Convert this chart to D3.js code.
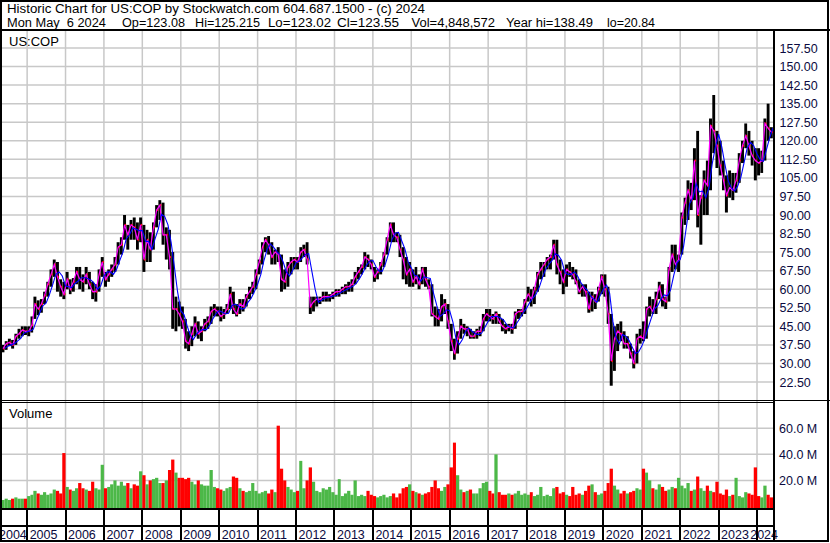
<!DOCTYPE html>
<html>
<head>
<meta charset="utf-8">
<script src="https://cdn.jsdelivr.net/npm/d3@7"></script>
<style>
  body { margin: 0; background: #fff; }
  text { font-family: "Liberation Sans", Arial, sans-serif; }
</style>
</head>
<body>
<script>
// monthly bars, May 2004 .. May 2024
const firstMonth = new Date(2004, 4, 1);

const closes = [
    36, 38, 38.5, 37.5, 41, 42, 43.5, 43,                        //2004
    43, 45.5, 54, 52, 54, 57.5, 62, 66, 70, 65, 61, 58,           //2005
    64, 60, 63, 67, 64, 63, 66, 62, 59, 59, 66, 71,               //2006
    64, 66, 68, 70, 77, 78, 86, 82, 86, 85, 80, 86,               //2007
    72, 80, 76, 85, 92, 94, 82, 82, 73, 52, 52, 50,               //2008
    47, 39, 38, 42, 46, 42, 43, 46, 47, 51, 52, 51,               //2009
    49, 50, 52, 58, 52, 50, 54, 53, 57, 59, 61, 66,               //2010
    71, 77, 80, 78, 73, 75, 74, 64, 63, 69, 71, 72,               //2011
    71, 75, 76, 72, 53, 55, 56, 56, 57, 57, 57, 58,               //2012
    59, 59, 60, 61, 61, 62, 65, 67, 69, 73, 72, 70,               //2013
    65, 67, 70, 74, 80, 86, 82, 81, 76, 72, 66, 68,               //2014
    63, 65, 62, 68, 64, 61, 50, 49, 48, 53, 54, 47,               //2015
    39, 34, 40, 45, 44, 44, 41, 41, 43, 43, 48, 50,               //2016
    49, 48, 50, 47, 45, 44, 45, 44, 50, 51, 51, 55,               //2017
    58, 56, 60, 66, 68, 70, 72, 73, 78, 70, 67, 63,               //2018
    68, 67, 66, 63, 59, 61, 59, 52, 57, 55, 60, 65,               //2019
    60, 50, 31, 40, 43, 42, 38, 38, 34, 30, 40, 41,               //2020
    40, 52, 53, 51, 56, 61, 56, 55, 68, 74, 70, 72,               //2021
    89, 95, 100, 96, 112, 90, 97, 104, 102, 126, 124, 118,        //2022
    110, 104, 98, 101, 100, 104, 112, 118, 122, 118, 114, 112,    //2023
    111, 112, 127, 125, 123.5                                     //2024
];

const highs = [
    37.5, 39, 40, 39.5, 42, 44, 45, 45,
    45, 49, 57, 55.5, 56, 59, 63, 68, 72, 71, 64, 63,
    67, 64, 64.5, 69, 69, 66, 69, 67, 63, 62, 68, 73,
    67, 68, 70, 73, 79, 81, 90, 86, 88, 89, 87, 89,
    86, 84, 83, 87, 94, 96, 95, 85, 84, 75, 57, 55,
    53, 48, 43, 45, 49, 47, 45, 48, 49, 53, 54, 53,
    53, 52, 54, 61, 59, 54, 56, 56, 58, 61, 63, 68,
    72, 79, 81, 81.5, 79, 76, 77, 74, 68, 71, 73, 73,
    73, 77, 78, 79, 57, 57, 57, 57, 59, 59, 58, 59,
    60, 60, 61, 62, 63, 64, 67, 69, 70, 75, 74, 72,
    69, 68, 71, 75, 81, 87, 87, 83, 82, 77, 73, 71,
    68, 69, 66, 69, 69, 64, 62, 53, 52, 58, 56, 54,
    46, 40, 43, 48, 46, 45, 44, 43, 44, 45, 50, 52,
    52, 50, 51, 50, 48, 46, 46, 46, 51, 52, 52, 56,
    61, 60, 61, 67, 71, 71, 73, 74, 80, 80, 72, 68,
    70, 71, 69, 68, 64, 62, 62, 59, 59, 58, 61, 66,
    66, 61, 50, 45, 46, 47, 43, 41, 38, 35, 42, 44,
    47, 53, 57, 56, 59, 63, 62, 57, 69, 78, 78, 74,
    91, 97, 104, 103, 117, 124, 98, 108, 112, 129, 138.5, 124,
    120, 112, 106, 108, 107, 107, 115, 120, 127, 124, 120, 117,
    117, 116, 129, 135, 125.5
];

const lows = [
    34.5, 35.5, 37, 36, 37.5, 40, 41, 41.5,
    41, 42.5, 48, 49.5, 50.5, 54, 57, 61, 65, 59, 57, 56,
    60, 58, 59, 62, 60, 59, 62, 60, 56, 55, 59, 65,
    61, 63, 65, 67, 70, 74, 80, 76, 80, 80, 76, 79,
    67, 71, 71, 76, 85, 88, 78, 72, 68, 44, 43, 45,
    44, 36, 35, 37, 41, 40, 39, 43, 44, 46, 49, 49,
    47, 48, 50, 52, 50, 49, 50, 51, 53, 56, 58, 60,
    66, 70, 75, 74, 70, 70, 71, 59, 60, 61, 66, 68,
    68, 71, 73, 70, 50, 51, 53, 54, 55, 55, 55, 56,
    57, 57, 58, 58, 59, 59, 62, 64, 66, 68, 69, 68,
    63, 64, 66, 69, 74, 79, 79, 79, 73, 64, 62, 61,
    61, 62, 60, 62, 61, 60, 49, 45, 45, 47, 50, 44,
    35, 31.5, 34, 40, 42, 41, 40, 40, 40, 41, 43, 47,
    47, 46, 46, 46, 43, 42, 43, 42, 44, 48, 49, 50,
    55, 53, 54, 59, 64, 65, 68, 68, 72, 66, 62, 58,
    61, 65, 64, 62, 58, 57, 57, 50.5, 51, 52, 55, 58,
    57, 46, 21, 27, 35, 39, 36, 36, 32, 28, 30, 38,
    39, 40, 49, 50, 50, 56, 53, 52, 55, 67, 68, 67,
    74, 86, 88, 92, 96, 85, 78, 90, 90, 100, 115, 109,
    106, 100, 91, 97, 96, 99, 103, 111, 117, 114, 110, 104,
    106, 107, 112, 120, 121
];

// volume in millions
const volumes = [
    5, 6, 5, 6, 7, 6, 6, 6,
    8, 9, 12, 10, 9, 11, 9, 10, 13, 12, 10, 41,
    15, 13, 12, 14, 18, 14, 13, 12, 19, 14, 13, 32,
    14, 15, 17, 20, 16, 19, 16, 18, 14, 17, 16, 27,
    24, 17, 20, 21, 22, 18, 18, 20, 28, 36, 26, 22,
    22, 21, 22, 19, 17, 20, 17, 16, 16, 28, 15, 14,
    13, 12, 14, 15, 23, 22, 14, 12, 11, 12, 18, 12,
    10, 11, 12, 10, 13, 11, 62, 29, 20, 15, 13, 11,
    12, 35, 14, 20, 30, 19, 12, 11, 14, 13, 15, 11,
    9, 21, 8, 10, 12, 9, 20, 8, 9, 8, 12, 9,
    8, 7, 8, 9, 7, 8, 10, 7, 10, 14, 15, 17,
    12, 11, 10, 9, 10, 11, 15, 20, 14, 12, 15, 17,
    30, 49, 24, 13, 11, 12, 13, 10, 10, 14, 18, 19,
    12, 10, 40, 11, 9, 9, 10, 9, 10, 12, 9, 10,
    9, 11, 8, 9, 15, 8, 9, 8, 14, 15, 10, 11,
    9, 8, 15, 9, 10, 9, 12, 16, 17, 11, 9, 10,
    12, 18, 29, 16, 13, 10, 12, 10, 11, 12, 14, 13,
    29, 26, 20, 14, 13, 17, 15, 12, 13, 15, 14, 22,
    16, 14, 18, 12, 13, 23, 14, 12, 16, 12, 11, 19,
    10, 9, 13, 8, 9, 22, 8, 7, 11, 10, 9, 30,
    8, 7, 16, 9, 7
];

const priceTicks = [22.5, 30, 37.5, 45, 52.5, 60, 67.5, 75, 82.5, 90, 97.5,
                    105, 112.5, 120, 127.5, 135, 142.5, 150, 157.5];
const volumeTicks = [20, 40, 60];
const yearLabels = [2004, 2005, 2006, 2007, 2008, 2009, 2010, 2011, 2012, 2013, 2014,
                    2015, 2016, 2017, 2018, 2019, 2020, 2021, 2022, 2023, 2024];

// header texts: [text, left, right]
const headerTitle = ["Historic Chart for US:COP by Stockwatch.com 604.687.1500 - (c) 2024", 7, 425];
const headerInfo = [
    ["Mon May  6 2024", 7, 106], ["Op=123.08", 122, 185], ["Hi=125.215", 195, 260],
    ["Lo=123.02", 268, 331], ["Cl=123.55", 337, 399], ["Vol=4,848,572", 411.5, 495],
    ["Year hi=138.49", 506, 593], ["lo=20.84", 607, 655]
];

function go() {
    const width = 830, height = 543;
    const plotRight = 773;
    const labelColor = "#0a0a40";

    const svg = d3.select("body").append("svg")
        .attr("width", width)
        .attr("height", height);

    const x = d3.scaleTime()
        .domain([new Date(2004, 3, 18), new Date(2024, 5, 1)])
        .range([0, plotRight]);
    const y = d3.scaleLinear().domain([22.5, 157.5]).range([382, 48]);
    const yv = d3.scaleLinear().domain([0, 60]).range([506.5, 428.3]);

    const bars = closes.map(function(c, i) {
        const start = d3.timeMonth.offset(firstMonth, i);
        const from = Math.max(0, i - 2);
        return {
            start: start,
            end: d3.timeMonth.offset(firstMonth, i + 1),
            mid: d3.timeDay.offset(start, 15),
            close: c, hi: highs[i], lo: lows[i], vol: volumes[i],
            up: i == 0 || c >= closes[i - 1],
            ma: d3.mean(closes.slice(from, i + 1))
        };
    });

    const defs = svg.append("defs");
    defs.append("clipPath").attr("id", "clipPrice")
        .append("rect").attr("x", 2).attr("y", 31).attr("width", plotRight - 2).attr("height", 369);
    defs.append("clipPath").attr("id", "clipVol")
        .append("rect").attr("x", 2).attr("y", 403).attr("width", plotRight - 2).attr("height", 105);
    defs.append("clipPath").attr("id", "clipYears")
        .append("rect").attr("x", 0).attr("y", 510).attr("width", 778).attr("height", 32);

    // header
    svg.selectAll(".hdr")
        .data([headerTitle].concat(headerInfo))
        .enter().append("text")
        .attr("class", "hdr")
        .attr("x", d => d[1])
        .attr("y", (d, i) => i == 0 ? 13.3 : 26.8)
        .attr("textLength", d => d[2] - d[1])
        .attr("lengthAdjust", "spacingAndGlyphs")
        .style("font-size", "12px")
        .style("white-space", "pre")
        .text(d => d[0]);

    // grid
    const grid = svg.append("g")
        .attr("stroke", "#c8c8c8")
        .attr("stroke-width", 1.5);
    const years = yearLabels.slice(1).map(yr => new Date(yr, 0, 1));
    grid.selectAll(".vg").data(years).enter().append("line")
        .attr("x1", d => x(d)).attr("x2", d => x(d))
        .attr("y1", 31).attr("y2", 508);
    grid.selectAll(".hg").data(priceTicks).enter().append("line")
        .attr("x1", 0).attr("x2", plotRight)
        .attr("y1", d => y(d)).attr("y2", d => y(d));
    grid.selectAll(".hv").data(volumeTicks).enter().append("line")
        .attr("x1", 0).attr("x2", plotRight)
        .attr("y1", d => yv(d)).attr("y2", d => yv(d));

    // price bars
    const price = svg.append("g").attr("clip-path", "url(#clipPrice)");
    price.selectAll(".bar").data(bars).enter().append("rect")
        .attr("x", d => x(d.start) + 0.1)
        .attr("width", d => x(d.end) - x(d.start) - 0.3)
        .attr("y", d => y(d.hi))
        .attr("height", d => y(d.lo) - y(d.hi))
        .attr("fill", "#000");
    price.selectAll(".tick").data(bars).enter().append("rect")
        .attr("x", d => x(d.end) - 1.6)
        .attr("width", 1.5)
        .attr("y", d => y(d.close) - 1)
        .attr("height", 2)
        .attr("fill", "#ff0000");

    const line = d3.line().x(d => d[0]).y(d => d[1]);
    price.append("path")
        .attr("d", line(bars.map(d => [x(d.mid), y(d.close)])))
        .attr("fill", "none")
        .attr("stroke", "#ff00ff")
        .attr("stroke-width", 1.2);
    price.append("path")
        .attr("d", line(bars.map(d => [x(d.end), y(d.ma)])))
        .attr("fill", "none")
        .attr("stroke", "#0000ff")
        .attr("stroke-width", 1.1);

    // volume bars
    svg.append("g").attr("clip-path", "url(#clipVol)")
        .selectAll("rect").data(bars).enter().append("rect")
        .attr("x", d => x(d.start))
        .attr("width", d => x(d.end) - x(d.start))
        .attr("y", d => yv(d.vol))
        .attr("height", d => yv(0) - yv(d.vol) + 2)
        .attr("fill", d => d.up ? "#4cb848" : "#ff0000");

    // axes on the right
    const pAxis = svg.append("g")
        .attr("transform", "translate(775,0)")
        .call(d3.axisRight(y).tickValues(priceTicks).tickFormat(d3.format(".2f")).tickSize(0).tickPadding(4.5));
    const vAxis = svg.append("g")
        .attr("transform", "translate(775,0)")
        .call(d3.axisRight(yv).tickValues(volumeTicks).tickFormat(d => d.toFixed(1) + " M").tickSize(0).tickPadding(4));
    [pAxis, vAxis].forEach(function(a) {
        a.select(".domain").remove();
        a.selectAll("text")
            .attr("fill", labelColor)
            .style("font-size", "12.5px")
            .style("font-family", "'Liberation Sans', Arial, sans-serif");
    });

    // panel labels
    svg.append("text").attr("x", 9).attr("y", 45.5).style("font-size", "13px").text("US:COP");
    svg.append("text").attr("x", 9).attr("y", 418).style("font-size", "13px").text("Volume");

    // year labels, the last one is pushed left against the axis
    const last = yearLabels[yearLabels.length - 1];
    svg.append("g").attr("clip-path", "url(#clipYears)")
        .selectAll("text").data(yearLabels).enter().append("text")
        .attr("x", yr => yr == last ? 778 : Math.max(x(new Date(yr, 0, 1)) + 2.5, -1))
        .attr("y", 539)
        .attr("text-anchor", yr => yr == last ? "end" : "start")
        .attr("fill", labelColor)
        .style("font-size", "12.5px")
        .text(yr => yr);

    // frame and separators
    const frame = svg.append("g").attr("stroke", "#000").attr("fill", "none");
    frame.append("rect").attr("x", 1).attr("y", 1).attr("width", 827).attr("height", 540).attr("stroke-width", 2);
    frame.append("line").attr("x1", 0).attr("x2", width).attr("y1", 30).attr("y2", 30).attr("stroke-width", 2);
    frame.append("line").attr("x1", 0).attr("x2", width).attr("y1", 400.5).attr("y2", 400.5).attr("stroke-width", 1);
    frame.append("line").attr("x1", 0).attr("x2", 774).attr("y1", 402.5).attr("y2", 402.5).attr("stroke-width", 1);
    frame.append("line").attr("x1", 0).attr("x2", 774).attr("y1", 509).attr("y2", 509).attr("stroke-width", 2);
    frame.append("line").attr("x1", 0).attr("x2", 774).attr("y1", 526).attr("y2", 526).attr("stroke-width", 2);
    frame.append("line").attr("x1", 774).attr("x2", 774).attr("y1", 30).attr("y2", 542).attr("stroke-width", 2);
    frame.selectAll(".yt").data(years).enter().append("line")
        .attr("x1", d => Math.round(x(d))).attr("x2", d => Math.round(x(d)))
        .attr("y1", 509).attr("y2", 541)
        .attr("stroke-width", 2);
}

window.onload = function() {
    go();
}
</script>
</body>
</html>
